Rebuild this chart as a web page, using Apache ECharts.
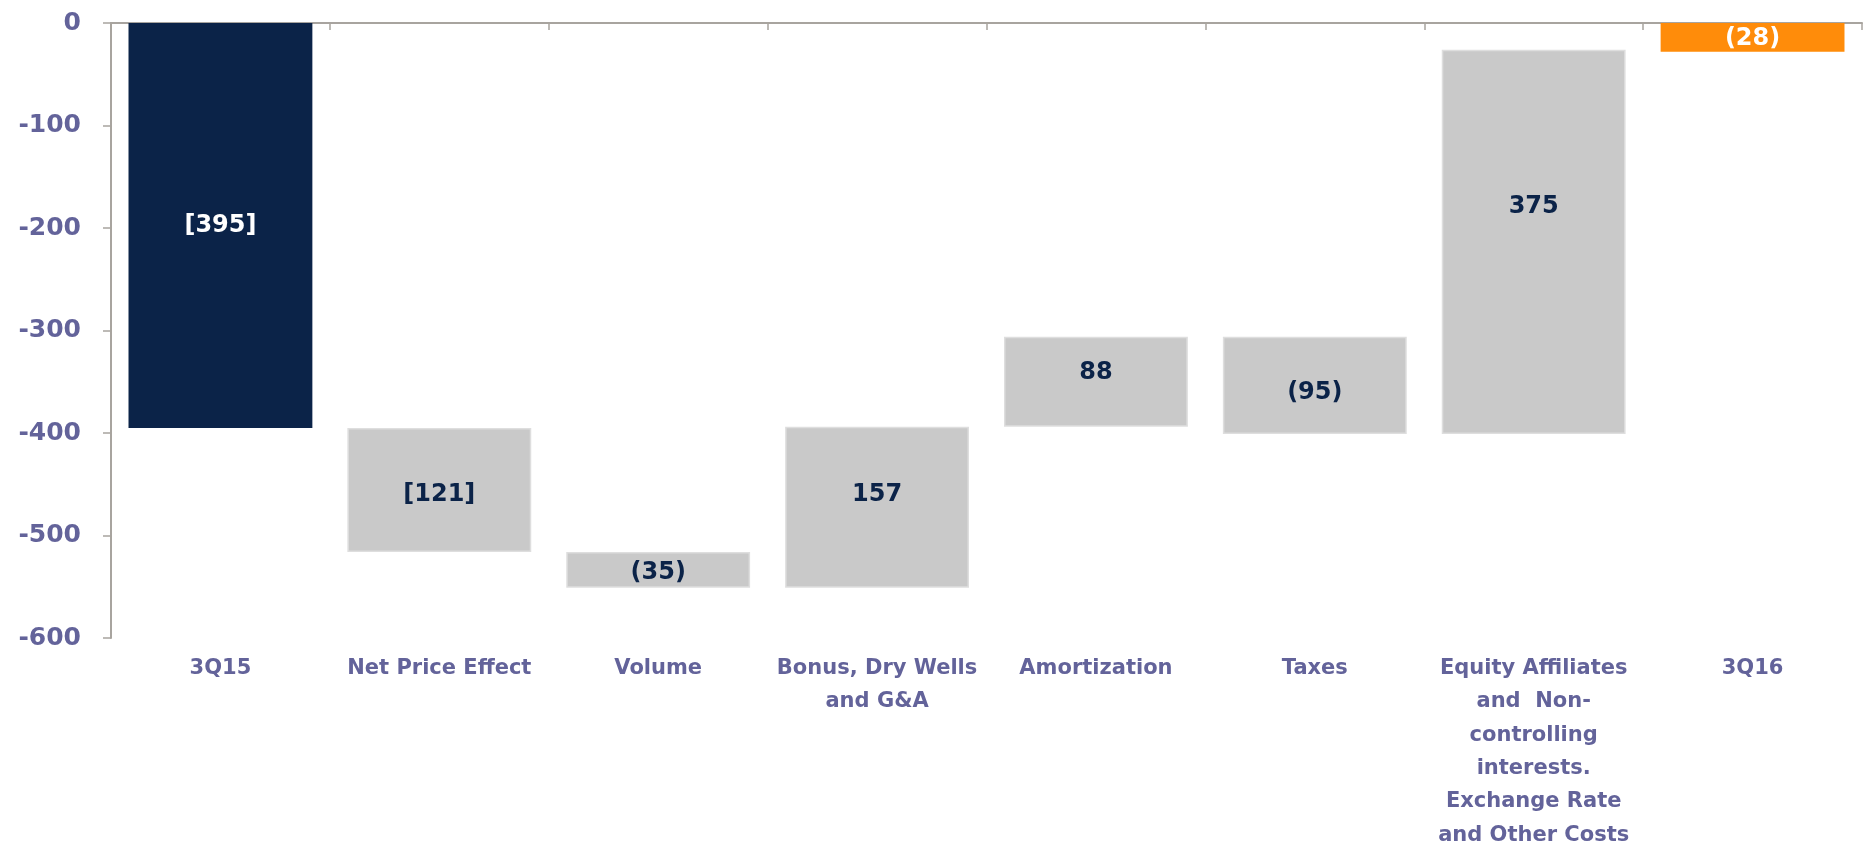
<!DOCTYPE html>
<html>
<head>
<meta charset="utf-8">
<script src="https://cdn.jsdelivr.net/npm/echarts@6/dist/echarts.min.js"></script>
<style>
html, body { margin: 0; padding: 0; background: #fff; }
#chart { width: 1872px; height: 845px; }
</style>
</head>
<body>
<div id="chart"></div>
<script>
var categories = [
    '3Q15',
    'Net Price Effect',
    'Volume',
    'Bonus, Dry Wells\nand G&A',
    'Amortization',
    'Taxes',
    'Equity Affiliates\nand  Non-\ncontrolling\ninterests.\nExchange Rate\nand Other Costs',
    '3Q16'
];
// hidden part of the waterfall (upper edge of each floating bar)
var baseValues = [0, -395, -516, -394, -306, -306, -26, 0];
// visible part (length of each bar, drawn downwards from the base)
var barValues = [-395, -121, -35, -157, -88, -95, -375, -28];
var barLabels = ['[395]', '[121]', '(35)', '157', '88', '(95)', '375', '(28)'];
var yMin = -600, yMax = 0, yStep = 100;

var font = "'DejaVu Sans', sans-serif";
var navy = '#0b2348';
var grey = '#c9c9c9';
var orange = '#ff8c0a';
var axisText = '#63639a';
var axisGrey = '#a8a49f';

var myChart = echarts.init(document.getElementById('chart'));

// label nudges, same as in the original slide
var labelShift = [0, 5, 3, -13, -9, 7, -35, 1];

var barData = barValues.map(function (v, i) {
    var first = i === 0, last = i === barValues.length - 1;
    return {
        value: v,
        itemStyle: {
            color: first ? navy : (last ? orange : grey),
            borderColor: (first || last) ? 'transparent' : '#dedede',
            borderWidth: (first || last) ? 0 : 1.5
        },
        label: {
            color: (first || last) ? '#ffffff' : navy,
            offset: [0, labelShift[i]]
        }
    };
});

var option = {
    animation: false,
    grid: {
        left: 111,
        top: 23,
        right: 10,
        bottom: 207,
        containLabel: false,
        outerBoundsMode: 'none'
    },
    xAxis: [{
        type: 'category',
        data: categories,
        position: 'top',
        axisLine: {
            show: true,
            lineStyle: { color: axisGrey, width: 2 }
        },
        axisTick: {
            show: true,
            inside: true,
            length: 7,
            lineStyle: { color: axisGrey, width: 1.5 }
        },
        axisLabel: { show: false },
        splitLine: { show: false }
    }, {
        type: 'category',
        data: categories,
        position: 'bottom',
        axisLine: { show: false, onZero: false },
        axisTick: { show: false },
        axisLabel: {
            interval: 0,
            margin: 14,
            color: axisText,
            fontFamily: font,
            fontWeight: 'bold',
            fontSize: 21,
            lineHeight: 33.3,
            align: 'center'
        }
    }],
    yAxis: {
        type: 'value',
        min: yMin,
        max: yMax,
        interval: yStep,
        axisLine: {
            show: true,
            lineStyle: { color: axisGrey, width: 2 }
        },
        axisTick: {
            show: true,
            length: 8,
            lineStyle: { color: axisGrey, width: 1.5 }
        },
        axisLabel: {
            margin: 30,
            color: axisText,
            fontFamily: font,
            fontWeight: 'bold',
            fontSize: 25
        },
        splitLine: { show: false }
    },
    series: [{
        name: 'base',
        type: 'bar',
        stack: 'total',
        xAxisIndex: 0,
        barWidth: '84%',
        itemStyle: { color: 'transparent' },
        emphasis: { disabled: true },
        data: baseValues
    }, {
        name: 'change',
        type: 'bar',
        stack: 'total',
        xAxisIndex: 0,
        barWidth: '84%',
        label: {
            show: true,
            position: 'inside',
            fontFamily: font,
            fontWeight: 'bold',
            fontSize: 24,
            formatter: function (p) {
                return barLabels[p.dataIndex];
            }
        },
        data: barData
    }]
};

myChart.setOption(option);
window.addEventListener('resize', function () {
    myChart.resize();
});
</script>
</body>
</html>
